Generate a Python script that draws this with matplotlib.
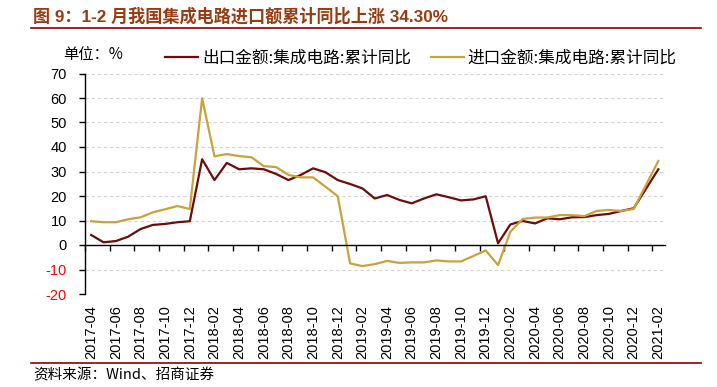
import numpy as np
import pandas as pd
import matplotlib
matplotlib.use("Agg")
import matplotlib.pyplot as plt
from matplotlib.lines import Line2D

plt.rcParams['font.family'] = ['Liberation Sans', 'Noto Sans CJK SC', 'DejaVu Sans']

months = [p.strftime('%Y-%m') for p in pd.period_range('2017-04', '2021-02', freq='M')]

export_ic = [4.1, 1.1, 1.6, 3.4, 6.5, 8.2, 8.6, 9.3, 9.7,
             35.0, 26.5, 33.5, 30.9, 31.3, 30.9, 29.0, 26.5, 28.6, 31.3, 29.7, 26.5,
             24.9, 23.1, 19.0, 20.4, 18.4, 17.0, 19.0, 20.7, 19.5, 18.2, 18.6, 19.9,
             0.7, 8.4, 9.8, 8.8, 10.9, 10.5, 11.3, 11.4, 12.2, 12.7, 13.9, 15.0,
             None, 30.9]
import_ic = [9.7, 9.3, 9.3, 10.5, 11.3, 13.3, 14.6, 15.9, 14.7,
             59.9, 36.2, 37.1, 36.3, 35.8, 32.2, 31.8, 28.6, 27.6, 27.6, 23.8, 19.9,
             -7.5, -8.6, -7.8, -6.5, -7.3, -7.1, -7.1, -6.3, -6.7, -6.7, -4.5, -2.2,
             -8.2, 5.4, 10.6, 11.2, 11.2, 12.2, 12.2, 11.8, 13.9, 14.3, 13.9, 14.7,
             None, 34.3]

series_names = ['出口金额:集成电路:累计同比', '进口金额:集成电路:累计同比']
series_colors = ['#6E0B0B', '#C9A23C']
yticks = [-20, -10, 0, 10, 20, 30, 40, 50, 60, 70]

title = '图 9：1-2 月我国集成电路进口额累计同比上涨 34.30%'
source = '资料来源：Wind、招商证券'
unit = '单位：%'

W, H = 717, 387
fig = plt.figure(figsize=(W / 100, H / 100), dpi=100)

cjk = ['Noto Sans CJK SC', 'Liberation Sans', 'DejaVu Sans']

# title and rules
fig.text(33 / W, 1 - 16 / H, title, fontsize=12.3, fontweight='bold', color='#9A3A10',
         family=['Liberation Sans', 'Noto Sans CJK SC'], va='center', ha='left')
fig.add_artist(Line2D([31 / W, 701 / W], [1 - 28.3 / H] * 2, color='#8B0000', lw=1.2))
fig.add_artist(Line2D([31 / W, 701 / W], [1 - 363 / H] * 2, color='#8B0000', lw=1.2))
fig.text(33 / W, 1 - 375 / H, source, fontsize=10.5, family=cjk, va='center', ha='left')
fig.text(63 / W, 1 - 55 / H, unit, fontsize=11, family=cjk, va='center', ha='left')

ax = fig.add_axes([85 / W, (H - 294) / H, 579.5 / W, 220.5 / H])
x = np.arange(len(months))
for vals, name, col in zip([export_ic, import_ic], series_names, series_colors):
    v = np.array([np.nan if a is None else a for a in vals], dtype=float)
    m = ~np.isnan(v)
    ax.plot(x[m], v[m], color=col, lw=1.6, label=name, solid_joinstyle='round')

ax.set_xlim(-0.5, len(months) - 0.5)
ax.set_ylim(-20, 70)
ax.set_yticks(yticks)
ax.set_yticklabels([str(t) for t in yticks], fontsize=10.5)
for lab, t in zip(ax.get_yticklabels(), yticks):
    if t < 0:
        lab.set_color('#FF0000')
ax.tick_params(axis='y', direction='out', length=4, width=1, pad=9)
ax.set_axisbelow(True)
ax.yaxis.grid(True, color='#D4D4D4', lw=0.8, linestyle=(0, (3, 2.5)))

for s in ['top', 'right']:
    ax.spines[s].set_visible(False)
ax.spines['left'].set_linewidth(1.0)
ax.spines['bottom'].set_position(('data', 0))
ax.spines['bottom'].set_linewidth(1.0)
ax.set_xticks(np.arange(-0.5, len(months), 2))
ax.set_xticklabels([])
ax.tick_params(axis='x', direction='out', length=4, width=1)

sec = ax.secondary_xaxis(0.0)
sec.set_xticks(x[::2])
sec.set_xticklabels(months[::2], rotation=90, fontsize=10.5)
sec.tick_params(length=0, pad=8)
sec.spines['bottom'].set_visible(False)

leg = fig.legend(handles=ax.get_lines(), labels=series_names, loc='center left',
                 bbox_to_anchor=(157 / W, 1 - 58 / H), ncol=2, frameon=False,
                 prop={'family': cjk, 'size': 12}, handlelength=1.95, handletextpad=0.25,
                 columnspacing=1.2, borderpad=0)
for t in leg.get_texts():
    t.set_fontfamily(cjk)

fig.savefig('out.png', dpi=100)
